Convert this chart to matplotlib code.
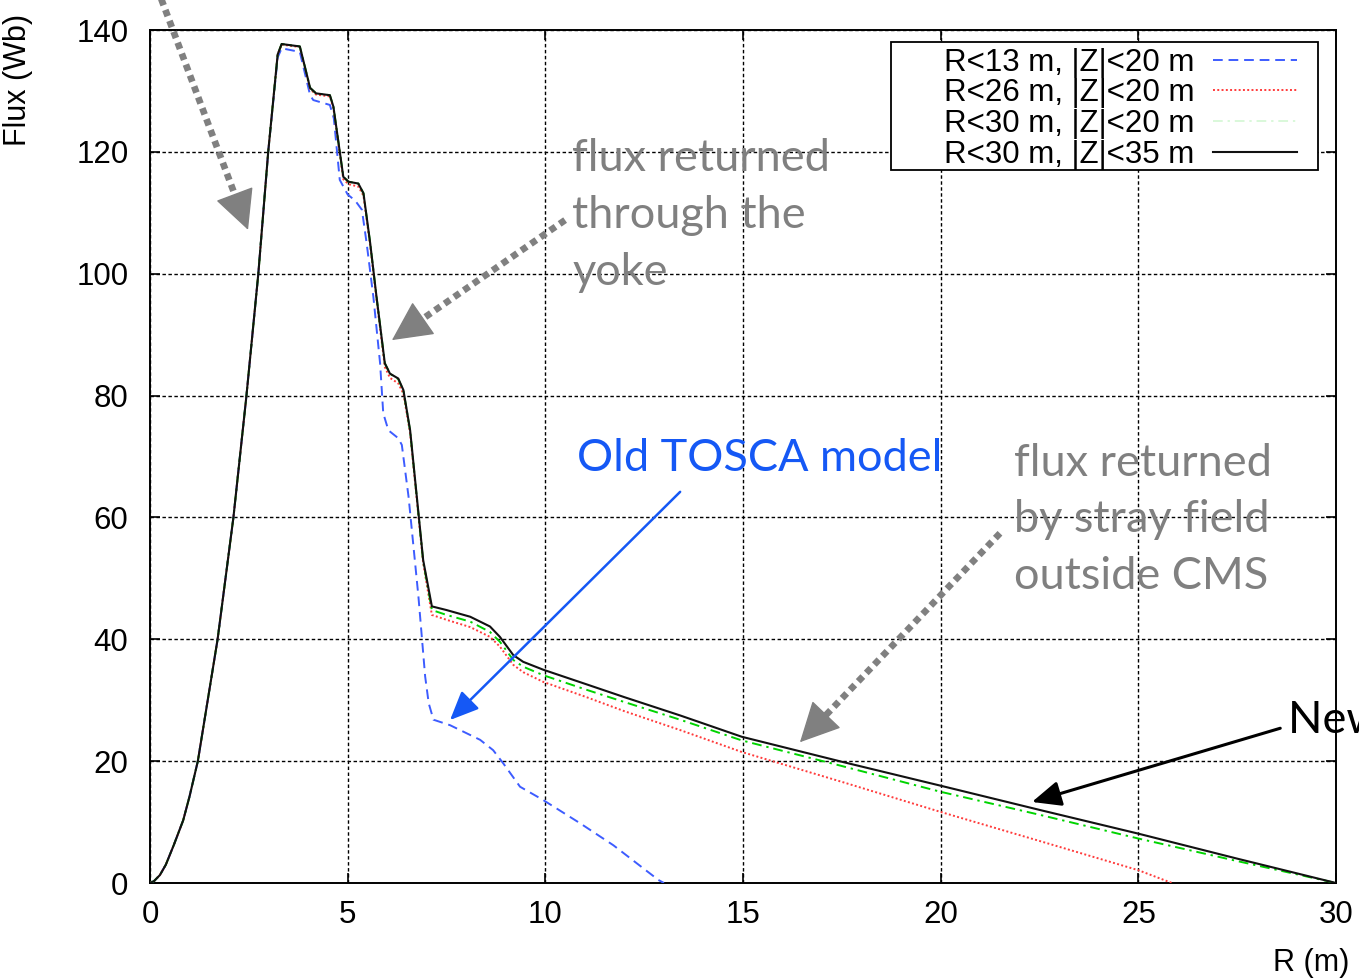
import matplotlib
matplotlib.use("Agg")
import matplotlib.pyplot as plt
from matplotlib.patches import Rectangle

# ---- data -------------------------------------------------------------
# integrated flux (Wb) vs radius R (m) for four integration volumes
r_r13 = [0, 0.1, 0.25, 0.4, 0.6, 0.84, 1.0, 1.21, 1.71, 2.11, 2.44, 2.74, 2.99, 3.23, 3.33,
         3.79, 4.05, 4.13, 4.55, 4.65, 4.80, 5.00, 5.19, 5.36, 5.48, 5.65,
         5.82, 5.90, 6.03, 6.28, 6.37, 6.54, 6.79, 6.96, 7.05, 7.17, 7.59,
         8.35, 8.68, 8.94, 9.36, 9.95, 10.88, 11.72, 12.86, 13.0]
f_r13 = [0, 0.3, 1.3, 3.0, 6.2, 10.3, 14.2, 20, 40, 60, 80, 100, 120, 135.5, 137.0,
         136.4, 129.3, 128.5, 127.7, 125.5, 115.4, 113.0, 112.0, 110.5, 105.0, 96.2,
         85.3, 77.1, 74.3, 73.0, 71.9, 63.4, 47.0, 33.9, 29.5, 26.8, 25.9,
         23.5, 21.8, 19.6, 15.8, 13.6, 9.8, 6.2, 0.5, 0]

r_r26 = [0, 0.1, 0.25, 0.4, 0.6, 0.84, 1.0, 1.21, 1.71, 2.11, 2.44, 2.74, 2.99, 3.23, 3.33,
         3.79, 4.05, 4.20, 4.55, 4.64, 4.89, 5.02, 5.27, 5.40, 5.57, 5.73,
         5.94, 6.07, 6.28, 6.41, 6.58, 6.91, 7.13, 7.50, 8.10, 8.60, 8.85,
         9.19, 9.44, 9.95, 11.0, 12.0, 13.41, 14.97, 17.5, 19.98, 22.5, 25.0,
         25.85]
f_r26 = [0, 0.3, 1.3, 3.0, 6.2, 10.3, 14.2, 20, 40, 60, 80, 100, 120, 136, 137.6,
         137.2, 130.3, 129.4, 129.1, 127.1, 115.5, 114.7, 114.3, 112.8, 104.6, 95.8,
         84.7, 82.9, 82.0, 80.3, 73.8, 52.5, 44.0, 43.2, 42.0, 40.4, 38.8,
         35.8, 34.6, 33.0, 30.6, 28.2, 25.1, 21.5, 16.6, 11.7, 6.9, 2.1,
         0]

r_r30 = [0, 0.1, 0.25, 0.4, 0.6, 0.84, 1.0, 1.21, 1.71, 2.11, 2.44, 2.74, 2.99, 3.23, 3.33,
         3.79, 4.05, 4.20, 4.55, 4.64, 4.89, 5.02, 5.27, 5.40, 5.57, 5.73,
         5.94, 6.07, 6.28, 6.41, 6.58, 6.91, 7.13, 7.50, 8.10, 8.60, 8.85,
         9.19, 9.44, 9.95, 11.0, 12.0, 13.41, 14.97, 17.5, 19.98, 22.5, 25.0,
         27.5, 30.0]
f_r30 = [0, 0.3, 1.3, 3.0, 6.2, 10.3, 14.2, 20, 40, 60, 80, 100, 120, 136, 137.7,
         137.3, 130.5, 129.6, 129.3, 127.4, 115.9, 115.1, 114.8, 113.2, 105.0, 96.2,
         85.3, 83.6, 82.7, 80.8, 74.2, 52.8, 44.8, 44.0, 42.9, 41.2, 39.6,
         36.6, 35.5, 34.1, 31.8, 29.7, 26.8, 23.4, 19.2, 15.0, 11.2, 7.3,
         3.6, 0]

r_z35 = [0, 0.1, 0.25, 0.4, 0.6, 0.84, 1.0, 1.21, 1.71, 2.11, 2.44, 2.74, 2.99, 3.23, 3.33,
         3.79, 4.05, 4.20, 4.55, 4.64, 4.89, 5.02, 5.27, 5.40, 5.57, 5.73,
         5.94, 6.07, 6.28, 6.41, 6.58, 6.91, 7.13, 7.50, 8.10, 8.60, 8.85,
         9.19, 9.44, 9.95, 11.0, 12.0, 13.41, 14.97, 17.5, 19.98, 22.5, 25.0,
         27.5, 30.0]
f_z35 = [0, 0.3, 1.3, 3.0, 6.2, 10.3, 14.2, 20, 40, 60, 80, 100, 120, 136, 137.7,
         137.3, 130.5, 129.6, 129.3, 127.4, 115.9, 115.1, 114.8, 113.2, 105.0, 96.2,
         85.3, 83.6, 82.8, 80.9, 74.3, 53.0, 45.4, 44.8, 43.7, 42.1, 40.4,
         37.4, 36.3, 35.0, 32.7, 30.5, 27.5, 24.0, 19.9, 16.0, 12.0, 8.1,
         4.0, 0]

labels = ["R<13 m, |Z|<20 m", "R<26 m, |Z|<20 m",
          "R<30 m, |Z|<20 m", "R<30 m, |Z|<35 m"]
x_ticks = [0, 5, 10, 15, 20, 25, 30]
y_ticks = [0, 20, 40, 60, 80, 100, 120, 140]

# ---- figure -----------------------------------------------------------
W, H = 1359, 980
fig = plt.figure(figsize=(W / 100, H / 100), dpi=100)
ax = fig.add_axes([150 / W, 1 - 883 / H, (1336 - 150) / W, (883 - 30) / H])

chart_font = "Liberation Sans"
note_font = "Lato"
grey = "#808080"
blue_note = "#1558f5"

ax.plot(r_r13, f_r13, color="#3d5cff", lw=1.4, ls=(0, (5, 3)), label=labels[0], zorder=3)
ax.plot(r_r26, f_r26, color="#ff3b3b", lw=1.4, ls=(0, (1, 1.2)), label=labels[1], zorder=3)
ax.plot(r_r30, f_r30, color="#00d400", lw=1.4, ls=(0, (5, 2.5, 1.2, 2.5)), label=labels[2], zorder=3)
ax.plot(r_z35, f_z35, color="#111111", lw=1.5, label=labels[3], zorder=3)

ax.set_xlim(0, 30)
ax.set_ylim(0, 140)
ax.set_xticks(x_ticks)
ax.set_yticks(y_ticks)
ax.grid(True, color="black", lw=1.0, ls=(0, (2.5, 1.8)))
ax.tick_params(direction="in", length=7, width=1.2, top=True, right=True,
               labelsize=22.5)
ax.tick_params(axis="y", pad=15.5)
ax.tick_params(axis="x", pad=12)
for lab in ax.get_xticklabels() + ax.get_yticklabels():
    lab.set_fontfamily(chart_font)
for sp in ax.spines.values():
    sp.set_linewidth(1.4)

# key: labels on the left, line samples on the right, inside a plain box
key_box = Rectangle((891 / W, 1 - 170 / H), (1318 - 891) / W, (170 - 42) / H,
                    transform=fig.transFigure, facecolor="white",
                    edgecolor="black", lw=1.3, zorder=4.8)
ax.add_artist(key_box)
key_box.set_clip_on(False)
leg = ax.legend(loc="upper right", bbox_to_anchor=(1297 / W, 1 - 47.5 / H),
                bbox_transform=fig.transFigure, markerfirst=False,
                prop={"family": chart_font, "size": 22.5}, frameon=False,
                handlelength=2.7, handletextpad=0.58, labelspacing=0.03,
                borderpad=0.0, borderaxespad=0)
leg.set_zorder(5)
leg.get_lines()[2].set_alpha(0.15)

# axis titles
fig.text(18 / W, 1 - 80 / H, "Flux (Wb)", rotation=90, ha="center", va="center",
         family=chart_font, size=22)
fig.text(1311 / W, 1 - 963 / H, "R (m)", ha="center", va="center",
         family=chart_font, size=22)


# ---- annotations ------------------------------------------------------
def dotted_arrow(tip, start, head_frac):
    """Thick dotted grey shaft with a solid filled head at the tip."""
    base = (tip[0] + head_frac * (start[0] - tip[0]),
            tip[1] + head_frac * (start[1] - tip[1]))
    ax.plot([start[0], base[0]], [start[1], base[1]], color=grey, lw=4.8,
            dashes=(1.0, 0.75), dash_capstyle="butt", clip_on=False, zorder=6)
    ax.annotate("", xy=tip, xytext=base, annotation_clip=False, zorder=6,
                arrowprops=dict(arrowstyle="-|>,head_length=1.0,head_width=0.5",
                                color=grey, lw=1, mutation_scale=26,
                                shrinkA=0, shrinkB=0))


dotted_arrow((2.48, 107.2), (0.0, 150.0), 0.09)
dotted_arrow((6.12, 89.1), (10.5, 108.8), 0.12)
dotted_arrow((16.44, 23.1), (21.5, 57.4), 0.085)

ax.annotate("", xy=(7.59, 26.75), xytext=(13.41, 64.2), annotation_clip=False, zorder=6,
            arrowprops=dict(arrowstyle="-|>,head_length=0.8,head_width=0.35",
                            color=blue_note, lw=1.8, mutation_scale=22,
                            shrinkA=0, shrinkB=0))
ax.annotate("", xy=(22.31, 13.3), xytext=(28.59, 25.4), annotation_clip=False, zorder=6,
            arrowprops=dict(arrowstyle="-|>,head_length=0.8,head_width=0.35",
                            color="black", lw=2.2, mutation_scale=22,
                            shrinkA=0, shrinkB=0))

ax.text(10.68, 109.5, "flux returned\nthrough the\nyoke", ha="left", va="center",
        family=note_font, size=32.5, color=grey, linespacing=1.48, zorder=6)
ax.text(10.8, 69.6, "Old TOSCA model", ha="left", va="center",
        family=note_font, size=32.5, color=blue_note, zorder=6)
ax.text(21.86, 59.6, "flux returned\nby stray field\noutside CMS", ha="left", va="center",
        family=note_font, size=32.5, color=grey, linespacing=1.48, zorder=6)
ax.text(28.79, 26.75, "New TOSCA model", ha="left", va="center",
        family=note_font, size=32.5, color="black", zorder=6, clip_on=False)

fig.savefig("out.png", dpi=100)
